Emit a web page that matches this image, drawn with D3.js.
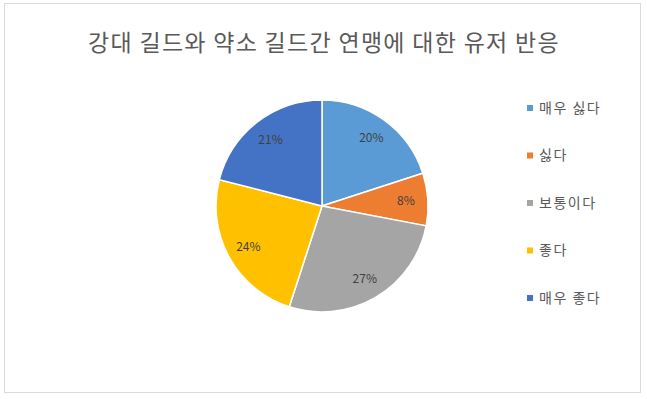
<!DOCTYPE html>
<html><head><meta charset="utf-8">
<script src="https://cdn.jsdelivr.net/npm/d3@7/dist/d3.min.js"></script>
<style>body{margin:0;background:#fff}svg{display:block}</style>
</head><body>
<svg id="chart" width="647" height="399"></svg>
<script>
const title = "강대 길드와 약소 길드간 연맹에 대한 유저 반응";
const categories = ["매우 싫다", "싫다", "보통이다", "좋다", "매우 좋다"];
const values = [20, 8, 27, 24, 21];
const colors = ["#5B9BD5", "#ED7D31", "#A5A5A5", "#FFC000", "#4472C4"];

const svg = d3.select("#chart");
const font = "'Noto Sans CJK KR', 'Noto Sans', sans-serif";

svg.append("rect").attr("x", 4.5).attr("y", 3.5).attr("width", 636).attr("height", 389)
  .attr("fill", "#fff").attr("stroke", "#d9d9d9").attr("stroke-width", 1);

svg.append("text").attr("x", 324).attr("y", 51).attr("text-anchor", "middle")
  .attr("font-family", font).attr("font-size", 23).attr("letter-spacing", 1.3)
  .attr("fill", "#595959")
  .text(title);

const cx = 322, cy = 206, R = 106;
const pie = d3.pie().sort(null).value(d => d);
const arcs = pie(values);
const arc = d3.arc().innerRadius(0).outerRadius(R);
const labelArc = d3.arc().innerRadius(84).outerRadius(84);
const color = d3.scaleOrdinal().domain(categories).range(colors);

const g = svg.append("g").attr("transform", `translate(${cx},${cy})`);
g.selectAll("path").data(arcs).enter().append("path")
  .attr("d", arc).attr("fill", (d, i) => color(categories[i]))
  .attr("stroke", "#fff").attr("stroke-width", 1.5);

g.selectAll("text.lbl").data(arcs).enter().append("text").attr("class", "lbl")
  .attr("transform", d => `translate(${labelArc.centroid(d)})`)
  .attr("text-anchor", "middle").attr("dy", "0.35em")
  .attr("font-family", font).attr("font-size", 12).attr("fill", "#404040")
  .text(d => d.data + "%");

const legendY = d3.scalePoint().domain(categories).range([108, 298]);
const lg = svg.append("g");
categories.forEach((c, i) => {
  const y = legendY(c);
  lg.append("rect").attr("x", 527).attr("y", y - 3).attr("width", 6).attr("height", 6)
    .attr("fill", color(c));
  lg.append("text").attr("x", 539).attr("y", y).attr("dy", "0.35em")
    .attr("font-family", font).attr("font-size", 14).attr("letter-spacing", 1.5)
    .attr("fill", "#595959").text(c);
});
</script>
</body></html>
